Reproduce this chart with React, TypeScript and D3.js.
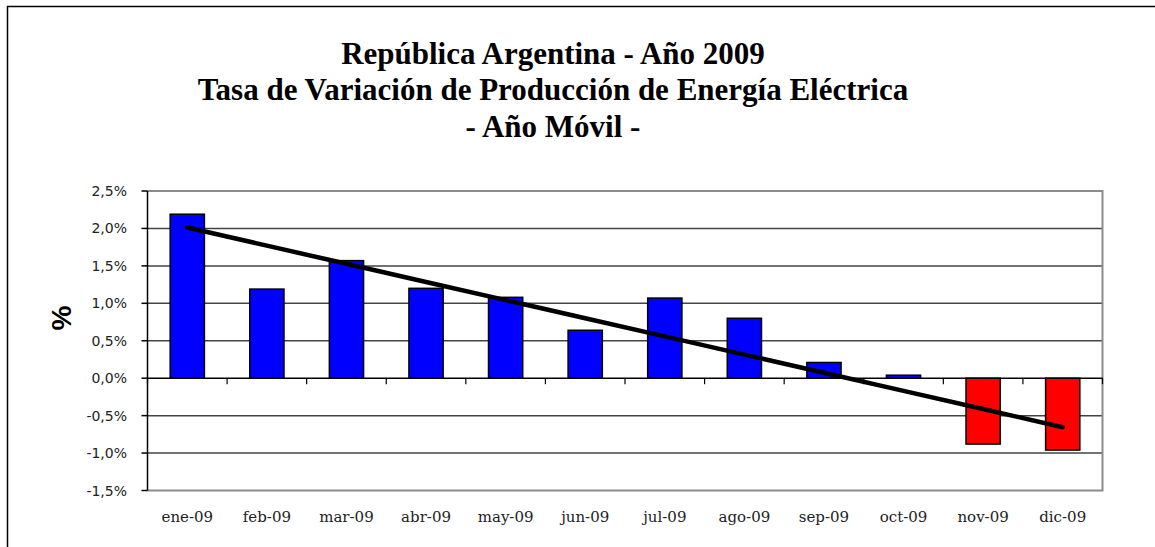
import React from "react";
import * as d3 from "d3";

const categories = ["ene-09", "feb-09", "mar-09", "abr-09", "may-09", "jun-09", "jul-09", "ago-09", "sep-09", "oct-09", "nov-09", "dic-09"];
const values = [2.19, 1.19, 1.57, 1.2, 1.08, 0.64, 1.07, 0.8, 0.21, 0.04, -0.88, -0.96];
const yTicks = [2.5, 2.0, 1.5, 1.0, 0.5, 0.0, -0.5, -1.0, -1.5];
const titleLines = ["República Argentina - Año 2009", "Tasa de Variación de Producción de Energía Eléctrica", "- Año Móvil -"];

const W = 1155;
const H = 547;
const plot = { left: 147.5, right: 1102.5, top: 191, bottom: 490.5 };

function linearTrend(vals: number[]) {
  const xs = vals.map((_, i) => i + 1);
  const mx = d3.mean(xs) as number;
  const my = d3.mean(vals) as number;
  let num = 0;
  let den = 0;
  xs.forEach((x, i) => {
    num += (x - mx) * (vals[i] - my);
    den += (x - mx) * (x - mx);
  });
  const slope = num / den;
  const intercept = my - slope * mx;
  return xs.map((x) => intercept + slope * x);
}

export default function App() {
  const x = d3.scaleBand<string>().domain(categories).range([plot.left, plot.right]).paddingInner(0).paddingOuter(0);
  const y = d3.scaleLinear().domain([-1.5, 2.5]).range([plot.bottom, plot.top]);
  const bw = x.bandwidth() * 0.43;
  const trend = linearTrend(values);
  const line = d3
    .line<number>()
    .x((_, i) => (x(categories[i]) as number) + x.bandwidth() / 2)
    .y((d) => y(d));
  const fmt = (v: number) => v.toFixed(1).replace(".", ",") + "%";
  const y0 = y(0);

  return (
    <svg width={W} height={H} style={{ position: "absolute", left: 0, top: 0, background: "#fff" }}>
      <rect x={0} y={0} width={W} height={H} fill="#fff" />
      <rect x={7.5} y={6.5} width={W + 20} height={H + 20} fill="none" stroke="#000" strokeWidth={1.5} />
      {titleLines.map((t, i) => (
        <text
          key={i}
          x={553}
          y={63.5 + i * 36.8}
          textAnchor="middle"
          fontFamily="'Liberation Serif', 'Times New Roman', serif"
          fontWeight="bold"
          fontSize={31}
          fill="#000"
        >
          {t}
        </text>
      ))}
      {/* gridlines */}
      {yTicks
        .filter((t) => t !== 0 && t !== 2.5 && t !== -1.5)
        .map((t) => (
          <line key={t} x1={plot.left} x2={plot.right} y1={y(t)} y2={y(t)} stroke="#444" strokeWidth={1.5} />
        ))}
      {/* plot border */}
      <polyline
        points={`${plot.left},${plot.top} ${plot.right},${plot.top} ${plot.right},${plot.bottom} ${plot.left},${plot.bottom}`}
        fill="none"
        stroke="#8c8c8c"
        strokeWidth={2}
      />
      {/* y axis */}
      <line x1={plot.left} x2={plot.left} y1={plot.top} y2={plot.bottom} stroke="#000" strokeWidth={1.5} />
      {yTicks.map((t) => (
        <g key={t}>
          <line x1={plot.left - 6} x2={plot.left} y1={y(t)} y2={y(t)} stroke="#000" strokeWidth={1.5} />
          <text
            x={127}
            y={y(t) + 5}
            textAnchor="end"
            fontFamily="'DejaVu Sans', sans-serif"
            fontSize={14}
            fill="#222"
          >
            {fmt(t)}
          </text>
        </g>
      ))}
      {/* bars */}
      {values.map((v, i) => {
        const cx = (x(categories[i]) as number) + x.bandwidth() / 2;
        const top = Math.min(y(v), y0);
        const h = Math.abs(y(v) - y0);
        return (
          <rect
            key={categories[i]}
            x={cx - bw / 2}
            y={top}
            width={bw}
            height={h}
            fill={v >= 0 ? "#0000FF" : "#FF0000"}
            stroke="#000"
            strokeWidth={1.5}
          />
        );
      })}
      {/* zero axis */}
      <line x1={plot.left} x2={plot.right} y1={y0} y2={y0} stroke="#000" strokeWidth={1.5} />
      {categories.map((c) => (
        <line key={c} x1={x(c) as number} x2={x(c) as number} y1={y0} y2={y0 + 6} stroke="#000" strokeWidth={1.2} />
      ))}
      <line x1={plot.right} x2={plot.right} y1={y0} y2={y0 + 6} stroke="#000" strokeWidth={1.2} />
      {/* trend line */}
      <path d={line(trend) as string} fill="none" stroke="#000" strokeWidth={4.5} strokeLinecap="round" />
      {/* x labels */}
      {categories.map((c) => (
        <text
          key={c}
          x={(x(c) as number) + x.bandwidth() / 2}
          y={522}
          textAnchor="middle"
          fontFamily="'DejaVu Serif', serif"
          fontSize={15}
          fill="#222"
        >
          {c}
        </text>
      ))}
      {/* y axis title */}
      <text
        transform={`translate(71, 318) rotate(-90)`}
        textAnchor="middle"
        fontFamily="'Liberation Sans', Arial, sans-serif"
        fontWeight="bold"
        fontSize={28}
        fill="#000"
      >
        %
      </text>
    </svg>
  );
}
